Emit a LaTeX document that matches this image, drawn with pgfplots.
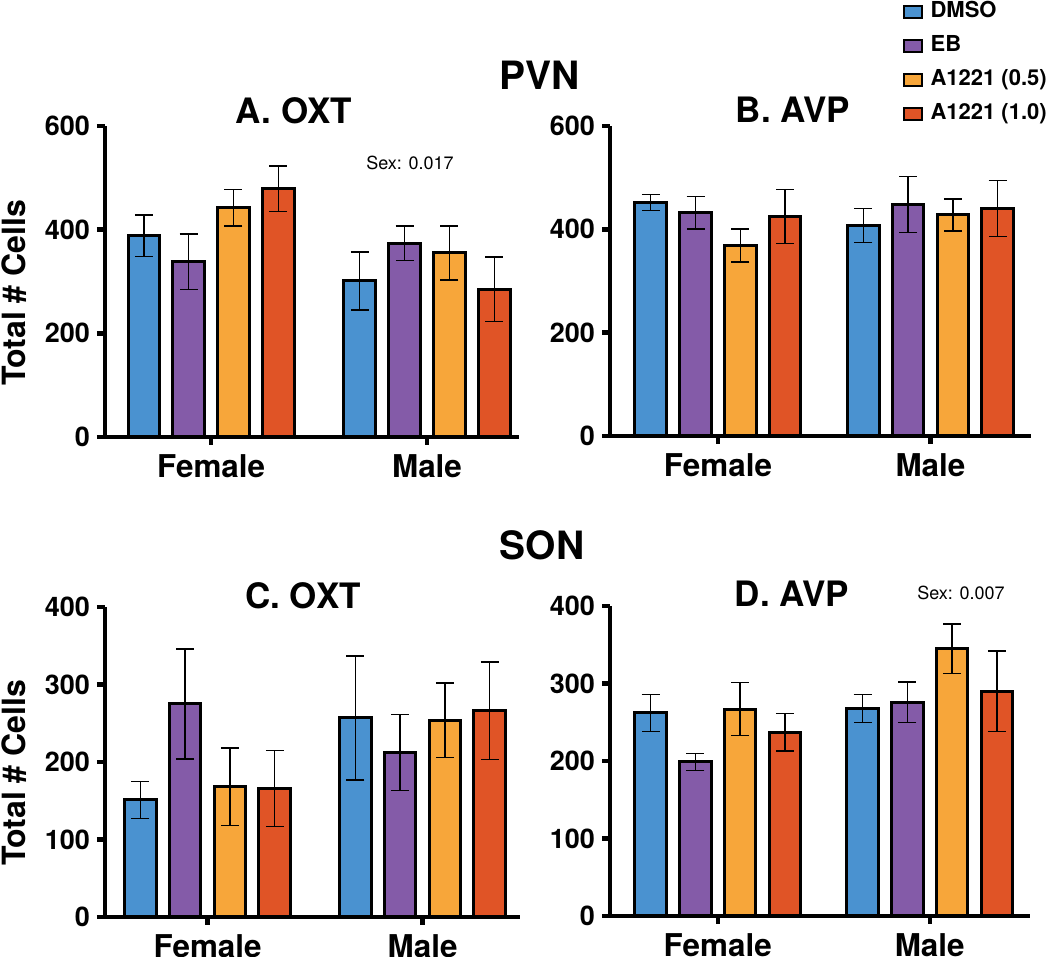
\documentclass[border=0pt]{standalone}
\usepackage{fontspec}
\setmainfont{TeX Gyre Heros}
\usepackage{pgfplots}
\pgfplotsset{compat=1.18}

\definecolor{cDMSO}{RGB}{74,146,208}
\definecolor{cEB}{RGB}{132,91,168}
\definecolor{cAlo}{RGB}{247,166,58}
\definecolor{cAhi}{RGB}{224,84,38}

\pgfplotsset{
  panel/.style={
    scale only axis,
    ybar=6.6pt, bar width=15.8pt,
    ymin=0,
    axis x line=bottom, axis y line=left,
    axis line style={-, line width=2.2pt},
    xtick={0,1}, xticklabels={Female,Male},
    tick align=outside, major tick length=4pt,
    tick style={line width=2.2pt, black},
    xticklabel style={font=\bfseries\fontsize{15.7}{18}\selectfont, yshift=-1.5pt},
    yticklabel style={font=\bfseries\fontsize{13.5}{16}\selectfont},
    /pgf/number format/assume math mode=true,
    clip=false,
  },
  grp/.style={
    fill=#1, draw=black, line width=1.5pt,
    legend image code/.code={\draw[fill=#1, draw=black, line width=1pt] (0pt,-3pt) rectangle (9pt,3pt);},
    error bars/.cd, y dir=both, y explicit,
    error bar style={line width=0.7pt, black},
    error mark options={rotate=90, mark size=4.5pt, line width=0.7pt, black},
  },
}

\begin{document}
\begin{tikzpicture}
\useasboundingbox (0,0) rectangle (525pt,478.5pt);

% A. PVN OXT
\begin{axis}[panel, at={(52.5pt,260pt)}, anchor=south west,
  width=207pt, height=155.5pt, xmin=-0.491, xmax=1.426,
  ymax=600, ytick={0,200,400,600}]
\addplot+[grp=cDMSO] coordinates {(0,388) +- (0,40) (1,301) +- (0,56)};
\addplot+[grp=cEB]   coordinates {(0,338) +- (0,54) (1,374) +- (0,33)};
\addplot+[grp=cAlo]  coordinates {(0,442) +- (0,35) (1,355) +- (0,52)};
\addplot+[grp=cAhi]  coordinates {(0,479) +- (0,44) (1,285) +- (0,62)};
\end{axis}

% B. PVN AVP
\begin{axis}[panel, at={(305pt,260.5pt)}, anchor=south west,
  width=210.5pt, height=155pt, xmin=-0.508, xmax=1.473,
  ymax=600, ytick={0,200,400,600},
  legend style={at={(0.694,1.41)}, anchor=north west, draw=none, fill=none,
    font=\bfseries\fontsize{11}{13}\selectfont, row sep=4.5pt, inner sep=0pt,
    nodes={inner sep=1pt, text height=8pt, text depth=2.5pt},
    /tikz/every odd column/.append style={column sep=3pt}},
  legend cell align=left]
\addplot+[grp=cDMSO] coordinates {(0,452) +- (0,15) (1,407) +- (0,33)};
\addplot+[grp=cEB]   coordinates {(0,432) +- (0,31) (1,448) +- (0,54)};
\addplot+[grp=cAlo]  coordinates {(0,369) +- (0,32) (1,428) +- (0,31)};
\addplot+[grp=cAhi]  coordinates {(0,425) +- (0,52) (1,440) +- (0,54)};
\legend{DMSO,EB,A1221 (0.5),A1221 (1.0)}
\end{axis}

% C. SON OXT
\begin{axis}[panel, at={(52.5pt,20pt)}, anchor=south west,
  width=207.5pt, height=155pt, xmin=-0.477, xmax=1.453,
  ymax=400, ytick={0,100,200,300,400}]
\addplot+[grp=cDMSO] coordinates {(0,151) +- (0,24) (1,257) +- (0,80)};
\addplot+[grp=cEB]   coordinates {(0,275) +- (0,71) (1,212) +- (0,49)};
\addplot+[grp=cAlo]  coordinates {(0,168) +- (0,50) (1,254) +- (0,48)};
\addplot+[grp=cAhi]  coordinates {(0,166) +- (0,49) (1,266) +- (0,63)};
\end{axis}

% D. SON AVP
\begin{axis}[panel, at={(305pt,20.5pt)}, anchor=south west,
  width=210pt, height=155pt, xmin=-0.508, xmax=1.473,
  ymax=400, ytick={0,100,200,300,400}]
\addplot+[grp=cDMSO] coordinates {(0,262) +- (0,24) (1,268) +- (0,18)};
\addplot+[grp=cEB]   coordinates {(0,199) +- (0,11) (1,276) +- (0,26)};
\addplot+[grp=cAlo]  coordinates {(0,267) +- (0,34) (1,345) +- (0,32)};
\addplot+[grp=cAhi]  coordinates {(0,237) +- (0,24) (1,290) +- (0,52)};
\end{axis}

% titles and notes
\begin{scope}[every node/.style={font=\bfseries, inner sep=0pt}]
\node[font=\bfseries\fontsize{19.5}{22}\selectfont] at (270pt,441pt) {PVN};
\node[font=\bfseries\fontsize{19.5}{22}\selectfont] at (271pt,206pt) {SON};
\node[font=\bfseries\fontsize{17.5}{20}\selectfont] at (147pt,423pt) {A. OXT};
\node[font=\bfseries\fontsize{17.5}{20}\selectfont] at (396.5pt,423.5pt) {B. AVP};
\node[font=\bfseries\fontsize{17.5}{20}\selectfont] at (151.5pt,180.5pt) {C. OXT};
\node[font=\bfseries\fontsize{17.5}{20}\selectfont] at (396pt,181.5pt) {D. AVP};
\node[font=\bfseries\fontsize{16}{18}\selectfont, rotate=90] at (7pt,332pt) {Total \# Cells};
\node[font=\bfseries\fontsize{16}{18}\selectfont, rotate=90] at (7pt,92pt) {Total \# Cells};
\node[font=\fontsize{9}{11}\selectfont] at (205pt,397pt) {Sex: 0.017};
\node[font=\fontsize{9}{11}\selectfont] at (480.5pt,182pt) {Sex: 0.007};
\end{scope}
\end{tikzpicture}
\end{document}
